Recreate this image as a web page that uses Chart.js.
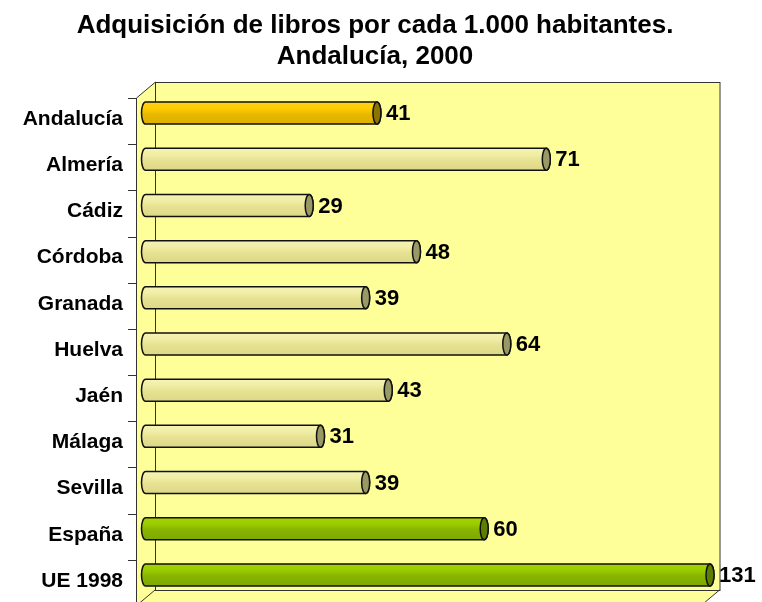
<!DOCTYPE html>
<html>
<head>
<meta charset="utf-8">
<script src="https://cdn.jsdelivr.net/npm/chart.js@4/dist/chart.umd.min.js"></script>
<style>
  html, body { margin: 0; padding: 0; background: #ffffff; }
  #wrap { width: 762px; height: 602px; }
</style>
</head>
<body>
<div id="wrap"><canvas id="c" width="762" height="602"></canvas></div>
<script>
const categories = ['Andalucía', 'Almería', 'Cádiz', 'Córdoba', 'Granada', 'Huelva', 'Jaén', 'Málaga', 'Sevilla', 'España', 'UE 1998'];
const values = [41, 71, 29, 48, 39, 64, 43, 31, 39, 60, 131];
const groups = ['andalucia', 'prov', 'prov', 'prov', 'prov', 'prov', 'prov', 'prov', 'prov', 'ref', 'ref'];
const titleLines = ['Adquisición de libros por cada 1.000 habitantes.', 'Andalucía, 2000'];
const axisMax = 100;

const FONT = "'Liberation Sans', Arial, sans-serif";
const DEPTH_X = 9.5, DEPTH_Y = 8;
const palette = {
  andalucia: { stops: ['#FFD21A', '#FFCC00', '#E8B800', '#DDB000'], cap: '#8C7400' },
  prov: { stops: ['#F6F3B8', '#F0EDA4', '#E6E292', '#DCD886'], cap: '#999966' },
  ref: { stops: ['#A6D400', '#99CC00', '#88B400', '#7EA800'], cap: '#5E7E00' }
};

const wallPlugin = {
  id: 'wall',
  beforeDatasetsDraw(chart) {
    const ctx = chart.ctx, a = chart.chartArea;
    const fl = a.left - DEPTH_X, fb = a.bottom + DEPTH_Y, ft = a.top + DEPTH_Y, fr = a.right - DEPTH_X;
    const bl = a.left + DEPTH_X, bt = a.top - DEPTH_Y, br = a.right + DEPTH_X, bb = a.bottom - DEPTH_Y;
    ctx.save();
    ctx.fillStyle = '#FFFF99';
    ctx.strokeStyle = '#333333';
    ctx.lineWidth = 1;
    ctx.beginPath();
    ctx.moveTo(fl, ft); ctx.lineTo(bl, bt); ctx.lineTo(bl, bb); ctx.lineTo(fl, fb); ctx.closePath();
    ctx.fill();
    ctx.beginPath();
    ctx.moveTo(fl, fb); ctx.lineTo(bl, bb); ctx.lineTo(br, bb); ctx.lineTo(fr, fb); ctx.closePath();
    ctx.fill();
    ctx.fillRect(bl, bt, br - bl, bb - bt);
    ctx.strokeRect(bl + 0.5, bt + 0.5, br - bl, bb - bt);
    ctx.beginPath();
    ctx.moveTo(fl + 0.5, ft); ctx.lineTo(bl + 0.5, bt);
    ctx.moveTo(fl + 0.5, ft); ctx.lineTo(fl + 0.5, fb);
    ctx.moveTo(fl, fb); ctx.lineTo(bl, bb);
    ctx.moveTo(fr, fb); ctx.lineTo(br, bb);
    ctx.moveTo(fl, fb); ctx.lineTo(fr, fb);
    ctx.stroke();
    const ys = chart.scales.y;
    const n = categories.length;
    ctx.beginPath();
    for (let i = 0; i <= n; i++) {
      const yy = Math.round(ys.getPixelForValue(i - 0.5) + DEPTH_Y) + 0.5;
      ctx.moveTo(fl - 8, yy); ctx.lineTo(fl, yy);
    }
    ctx.stroke();
    ctx.restore();
  },
  afterDatasetsDraw(chart) {
    const ctx = chart.ctx, a = chart.chartArea;
    const meta = chart.getDatasetMeta(0);
    ctx.save();
    meta.data.forEach((el, i) => {
      const p = el.getProps(['x', 'y', 'base', 'height'], true);
      const x0 = p.base, x1 = Math.min(p.x, a.right);
      const h = p.height, yt = p.y - h / 2, yb = p.y + h / 2;
      const rx = 4, ry = h / 2;
      const pal = palette[groups[i]];
      const g = ctx.createLinearGradient(0, yt, 0, yb);
      g.addColorStop(0, pal.stops[0]);
      g.addColorStop(0.3, pal.stops[1]);
      g.addColorStop(0.55, pal.stops[2]);
      g.addColorStop(1, pal.stops[3]);
      ctx.beginPath();
      ctx.moveTo(x0, yt);
      ctx.lineTo(x1, yt);
      ctx.ellipse(x1, p.y, rx, ry, 0, -Math.PI / 2, Math.PI / 2, false);
      ctx.lineTo(x0, yb);
      ctx.ellipse(x0, p.y, rx, ry, 0, Math.PI / 2, Math.PI * 1.5, false);
      ctx.closePath();
      ctx.fillStyle = g;
      ctx.fill();
      ctx.lineWidth = 1.5;
      ctx.strokeStyle = '#111111';
      ctx.stroke();
      ctx.beginPath();
      ctx.ellipse(x1, p.y, rx, ry, 0, 0, Math.PI * 2);
      ctx.fillStyle = pal.cap;
      ctx.fill();
      ctx.stroke();
      ctx.fillStyle = '#000000';
      ctx.font = 'bold 22px ' + FONT;
      ctx.textAlign = 'left';
      ctx.textBaseline = 'middle';
      ctx.fillText(String(values[i]), x1 + rx + 5, p.y + 1);
    });
    ctx.restore();
  }
};

new Chart(document.getElementById('c'), {
  type: 'bar',
  data: {
    labels: categories,
    datasets: [{
      data: values,
      backgroundColor: 'rgba(0,0,0,0)',
      borderWidth: 0,
      barThickness: 22
    }]
  },
  options: {
    indexAxis: 'y',
    responsive: false,
    animation: false,
    events: [],
    layout: { padding: { left: 0, right: 12, top: 0, bottom: 4 } },
    scales: {
      x: { min: 0, max: axisMax, display: false },
      y: {
        grid: { display: false, drawTicks: false },
        border: { display: false },
        ticks: {
          color: '#000000',
          font: { family: FONT, size: 21, weight: 'bold' },
          padding: 22.5,
          labelOffset: 6
        },
        afterFit(scale) {
          scale.width = 145.5;
          scale.paddingTop = 0;
          scale.paddingBottom = 0;
        }
      },
      yR: {
        type: 'category',
        labels: categories,
        position: 'right',
        display: true,
        grid: { display: false, drawTicks: false },
        border: { display: false },
        ticks: { display: false },
        afterFit(scale) { scale.width = 40; }
      }
    },
    plugins: {
      legend: { display: false },
      tooltip: { enabled: false },
      title: {
        display: true,
        text: titleLines,
        color: '#000000',
        font: { family: FONT, size: 26, weight: 'bold', lineHeight: 31 / 26 },
        padding: { top: 10.5, bottom: 17.5 }
      }
    }
  },
  plugins: [wallPlugin]
});
</script>
</body>
</html>
